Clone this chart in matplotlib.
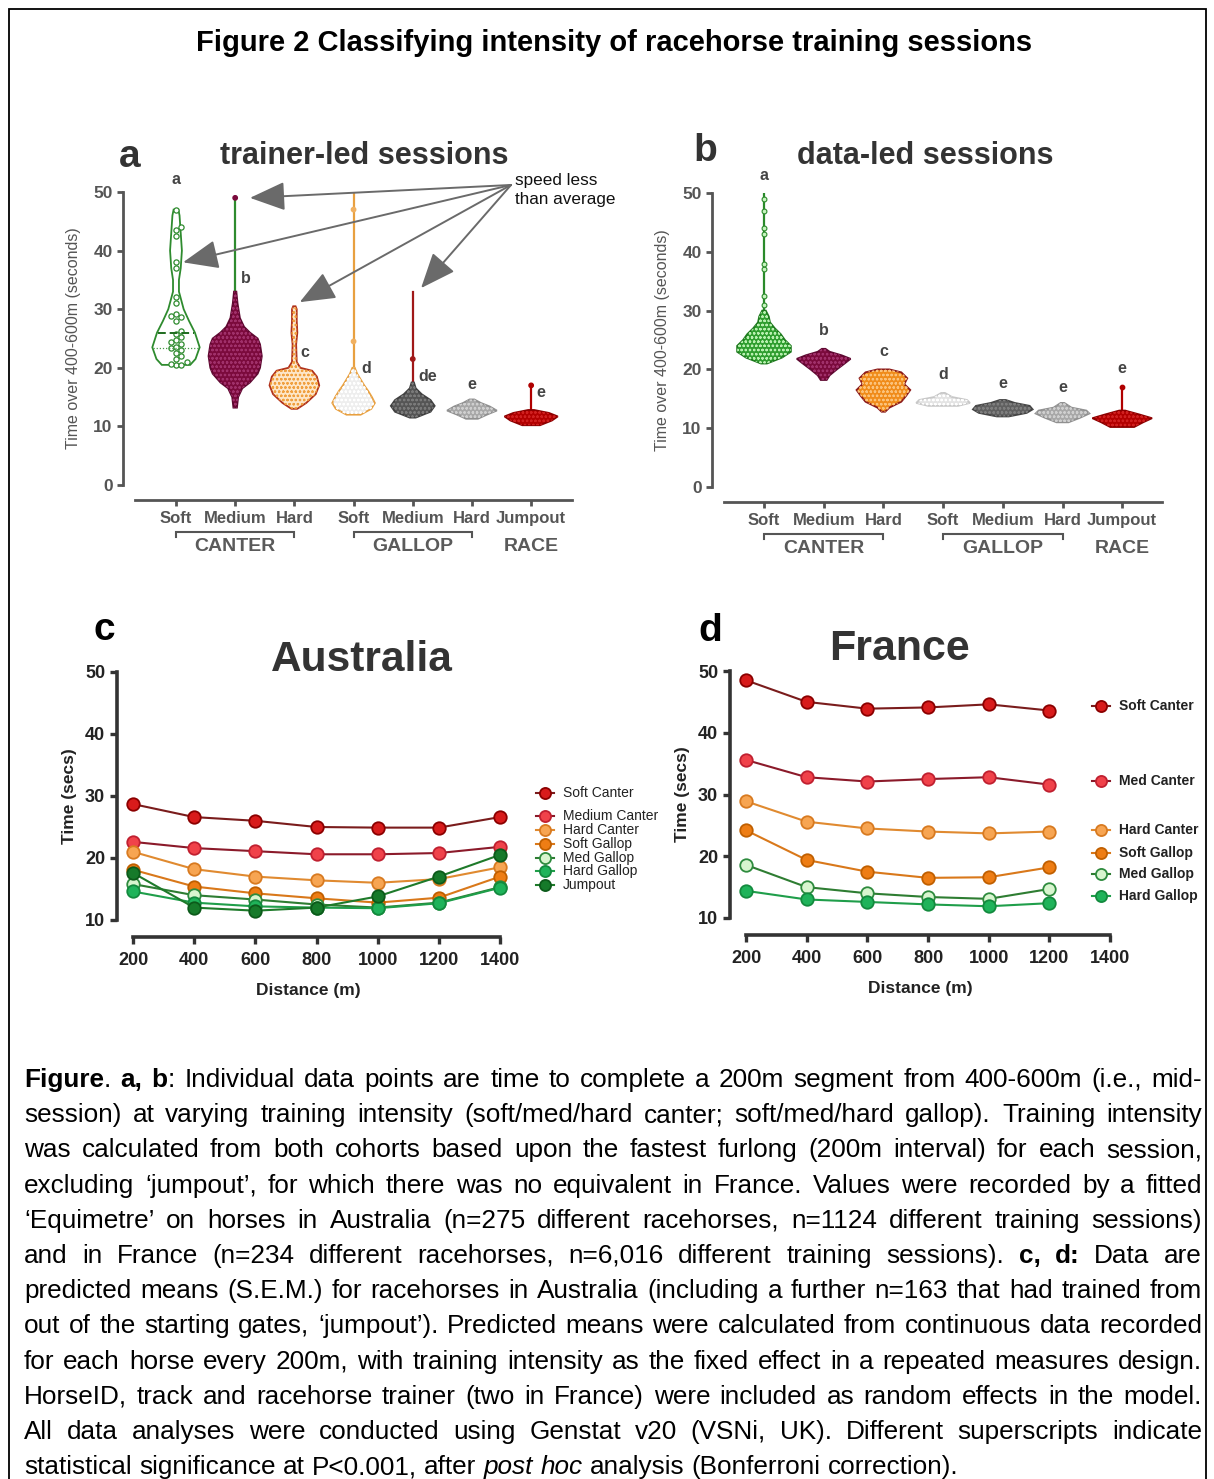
import matplotlib
matplotlib.use("Agg")
import matplotlib.pyplot as plt
from matplotlib.patches import Polygon, Rectangle
import numpy as np

plt.rcParams['font.family'] = ['Liberation Sans', 'DejaVu Sans']
plt.rcParams['hatch.linewidth'] = 0.6

W, H = 1214, 1479

# ---------------- data: panels a, b (violin outlines) ----------------
categories = ["Soft", "Medium", "Hard", "Soft", "Medium", "Hard", "Jumpout"]
groups = ["CANTER", "GALLOP", "RACE"]

# trainer-led: (y levels, half widths in category units)
a_profiles = [
    ([20.5, 21.5, 23.5, 26, 28, 30, 33, 35, 37, 40, 43, 46, 47],
     [0.24, 0.33, 0.40, 0.32, 0.22, 0.13, 0.05, 0.05, 0.08, 0.10, 0.08, 0.06, 0.04]),
    ([13.2, 15, 16.5, 17.5, 19, 20, 22, 24, 25, 26, 27, 28.5, 31, 33],
     [0.03, 0.05, 0.12, 0.25, 0.38, 0.42, 0.45, 0.42, 0.38, 0.25, 0.15, 0.08, 0.04, 0.02]),
    ([13, 14, 15.5, 17, 18.5, 19.5, 20, 21, 24, 26, 28, 30, 30.5],
     [0.05, 0.20, 0.36, 0.42, 0.38, 0.30, 0.10, 0.04, 0.03, 0.05, 0.04, 0.04, 0.02]),
    ([12, 13, 14, 15, 16, 17, 18, 19, 20],
     [0.12, 0.30, 0.36, 0.31, 0.25, 0.18, 0.12, 0.06, 0.02]),
    ([11.5, 12.5, 13.5, 14.5, 15.5, 16.5, 17.5],
     [0.05, 0.30, 0.37, 0.30, 0.15, 0.05, 0.02]),
    ([11.3, 12, 12.7, 13.4, 14, 14.6],
     [0.10, 0.25, 0.42, 0.30, 0.15, 0.04]),
    ([10.2, 11, 11.7, 12.3, 12.8],
     [0.15, 0.35, 0.45, 0.30, 0.05]),
]
a_tail_top = [None, 49, None, 50, 33, None, 17]
a_tail_colors = [None, "#2e8b2e", None, "#e8a040", "#a01818", None, "#b00000"]
a_faces = ["white", "#7b0a3c", "#fde6c8", "#eeeeee", "#555555", "#a8a8a8", "#b30000"]
a_edges = ["#2e8b2e", "#5e0830", "#b0301a", "#e8a040", "#404040", "#909090", "#8b0000"]
a_dots = [None, "#a0306a", "#f0a040", "#ffffff", "#7a7a7a", "#cfcfcf", "#d02020"]
a_letters = ["a", "b", "c", "d", "de", "e", "e"]
a_letter_y = [50.8, 34.0, 21.3, 18.6, 17.3, 15.9, 14.5]
a_letter_dx = [0.0, 0.18, 0.17, 0.22, 0.25, 0.0, 0.17]

# individual points in soft canter, trainer-led
soft_canter_a = [20.5, 20.5, 20.7, 21.0, 21.5, 22.0, 22.5, 23.0, 23.3, 23.6, 24.0, 24.4,
                 24.8, 25.2, 25.8, 26.2, 28.0, 28.6, 28.9, 29.2, 31.0, 32.0, 37.0, 38.0,
                 42.5, 43.5, 44.0, 47.0]
soft_canter_a_median = 26.0
soft_canter_a_q1 = 23.4

# data-led
b_profiles = [
    ([21, 22, 23, 24, 25, 26, 27, 28, 29, 30],
     [0.05, 0.30, 0.45, 0.45, 0.35, 0.28, 0.18, 0.10, 0.08, 0.03]),
    ([18.2, 19, 20, 21, 21.8, 22.4, 23, 23.5],
     [0.05, 0.10, 0.22, 0.35, 0.45, 0.30, 0.10, 0.03]),
    ([12.8, 13.5, 14.5, 15.5, 16.5, 17.5, 18.5, 19.5, 20],
     [0.03, 0.10, 0.30, 0.38, 0.45, 0.35, 0.40, 0.30, 0.10]),
    ([13.8, 14.3, 14.8, 15.3, 16],
     [0.25, 0.45, 0.40, 0.15, 0.03]),
    ([12, 12.6, 13.2, 13.8, 14.3, 14.8],
     [0.10, 0.40, 0.50, 0.45, 0.20, 0.05]),
    ([11, 11.8, 12.5, 13, 13.5, 14.3],
     [0.10, 0.30, 0.45, 0.40, 0.15, 0.03]),
    ([10.2, 11, 11.7, 12.3, 13],
     [0.20, 0.35, 0.50, 0.30, 0.05]),
]
b_tail_top = [50, None, None, None, None, None, 17]
b_tail_colors = ["#2a8a2a", None, None, None, None, None, "#b00000"]
b_faces = ["#2f9e2f", "#7b0a3c", "#f08c1a", "#e4e4e4", "#606060", "#a8a8a8", "#b30000"]
b_edges = ["#1e7a1e", "#5e0830", "#8b1a1a", "#c8c8c8", "#454545", "#909090", "#8b0000"]
b_dots = ["#b8f0b0", "#a0306a", "#fbc27a", "#ffffff", "#7e7e7e", "#cfcfcf", "#d02020"]
b_letters = ["a", "b", "c", "d", "e", "e", "e"]
b_letter_y = [51.7, 25.3, 21.7, 17.8, 16.3, 15.7, 18.8]
soft_canter_b_tail = [31.0, 32.5, 37.0, 38.0, 43.0, 44.0, 47.0, 49.0]

# ---------------- data: panels c, d (predicted means) ----------------
dist_c = [200, 400, 600, 800, 1000, 1200, 1400]
aus_names = ["Soft Canter", "Medium Canter", "Hard Canter", "Soft Gallop", "Med Gallop",
             "Hard Gallop", "Jumpout"]
aus_values = [
    [28.7, 26.6, 26.0, 25.0, 24.9, 24.9, 26.6],
    [22.6, 21.6, 21.1, 20.6, 20.6, 20.8, 21.8],
    [21.0, 18.2, 17.0, 16.4, 16.0, 16.6, 18.5],
    [18.1, 15.4, 14.3, 13.5, 12.8, 13.6, 17.0],
    [15.8, 14.0, 13.3, 12.5, 12.0, 12.8, 15.3],
    [14.6, 12.8, 12.2, 12.0, 11.9, 12.7, 15.2],
    [17.6, 12.0, 11.5, 12.0, 13.8, 17.0, 20.5],
]
dist_d = [200, 400, 600, 800, 1000, 1200]
fra_names = ["Soft Canter", "Med Canter", "Hard Canter", "Soft Gallop", "Med Gallop", "Hard Gallop"]
fra_values = [
    [48.5, 45.0, 43.9, 44.1, 44.6, 43.6],
    [35.6, 32.8, 32.1, 32.5, 32.8, 31.6],
    [28.9, 25.6, 24.5, 24.0, 23.7, 24.0],
    [24.2, 19.4, 17.5, 16.5, 16.6, 18.2],
    [18.6, 15.0, 14.0, 13.4, 13.1, 14.7],
    [14.4, 13.0, 12.6, 12.2, 11.9, 12.4],
]
# styles per intensity (face, edge, line)
styles = {
    "Soft Canter": ("#d81b1b", "#8b0000", "#7a1c1c"),
    "Medium Canter": ("#f0424a", "#c02030", "#8b1a2a"),
    "Med Canter": ("#f0424a", "#c02030", "#8b1a2a"),
    "Hard Canter": ("#f7a552", "#d87a20", "#e08a30"),
    "Soft Gallop": ("#ee7d14", "#c05f00", "#d9781a"),
    "Med Gallop": ("#d8f5cf", "#2e8b3e", "#2e7d32"),
    "Hard Gallop": ("#1fb35a", "#138a3e", "#1f9e4a"),
    "Jumpout": ("#167a2a", "#0c5a1a", "#1e7a2a"),
}

caption = [
    [("Figure", "b"), (". ", "n"), ("a, b", "b"), (": Individual data points are time to complete a 200m segment from 400-600m (i.e., mid-", "n")],
    [("session) at varying training intensity (soft/med/hard canter; soft/med/hard gallop). Training intensity", "n")],
    [("was calculated from both cohorts based upon the fastest furlong (200m interval) for each session,", "n")],
    [("excluding \u2018jumpout\u2019, for which there was no equivalent in France.  Values were recorded by a fitted", "n")],
    [("\u2018Equimetre\u2019 on horses in Australia (n=275 different racehorses, n=1124 different training sessions)", "n")],
    [("and in France (n=234 different racehorses, n=6,016 different training sessions). ", "n"), ("c, d:", "b"), (" Data are", "n")],
    [("predicted means (S.E.M.) for racehorses in Australia (including a further n=163 that had trained from", "n")],
    [("out of the starting gates, \u2018jumpout\u2019). Predicted means were calculated from continuous data recorded", "n")],
    [("for each horse every 200m, with training intensity as the fixed effect in a repeated measures design.", "n")],
    [("HorseID, track and racehorse trainer (two in France) were included as random effects in the model.", "n")],
    [("All data analyses were conducted using Genstat v20 (VSNi, UK). Different superscripts indicate", "n")],
    [("statistical significance at P<0.001, after ", "n"), ("post hoc", "i"), (" analysis (Bonferroni correction).", "n")],
]


def px_axes(fig, left, top, right, bottom):
    return fig.add_axes([left / W, 1 - bottom / H, (right - left) / W, (bottom - top) / H])


def ftext(fig, x, y, s, **kw):
    return fig.text(x / W, 1 - y / H, s, **kw)


def violin(ax, pos, ys, hws, face, edge, dot):
    right = [(pos + w, y) for y, w in zip(ys, hws)]
    left = [(pos - w, y) for y, w in zip(ys[::-1], hws[::-1])]
    ax.add_patch(Polygon(right + left, closed=True, facecolor=face, edgecolor=edge, lw=1.3, zorder=2))
    if dot:
        ax.add_patch(Polygon(right + left, closed=True, facecolor="none", edgecolor=dot,
                             lw=0, hatch="oooo", zorder=3))


def swarm(values, step=0.09, dy=0.9):
    placed = []
    xs = []
    for v in values:
        k = 0
        while True:
            off = ((k + 1) // 2) * step * (1 if k % 2 else -1) if k else 0.0
            if all(abs(v - pv) > dy or abs(off - px) > step * 0.9 for pv, px in placed):
                break
            k += 1
        placed.append((v, off))
        xs.append(off)
    return xs


def setup_violin_axes(ax, ylabel):
    ax.set_ylim(0, 50)
    ax.set_xlim(-0.895, 6.69)
    for s in ["top", "right"]:
        ax.spines[s].set_visible(False)
    for s in ["left", "bottom"]:
        ax.spines[s].set_color("#555555")
        ax.spines[s].set_linewidth(2.0)
    ax.spines["bottom"].set_position(("outward", 10.8))
    ax.spines["bottom"].set_bounds(-0.69, 6.69)
    ax.spines["left"].set_bounds(0, 50)
    ax.set_yticks([0, 10, 20, 30, 40, 50])
    ax.set_xticks(range(len(categories)))
    ax.set_xticklabels(categories)
    ax.tick_params(axis="both", colors="#555555", width=2.0, length=4, labelsize=12.5)
    ax.tick_params(axis="x", pad=4, labelsize=12)
    for t in ax.get_yticklabels() + ax.get_xticklabels():
        t.set_fontweight("bold")
        t.set_color("#555555")
    ax.set_ylabel(ylabel, color="#555555", fontsize=11.5, labelpad=9)
    ax.patch.set_alpha(0)
    # group brackets
    for lo, hi in [(0, 2), (3, 5)]:
        ax.plot([lo, lo, hi, hi], [-8.9, -8.0, -8.0, -8.9], color="#555555", lw=1.5,
                clip_on=False, solid_joinstyle="miter")
    for xg, g in zip([1, 4, 6], groups):
        ax.text(xg, -10.5, g, ha="center", va="center", fontsize=14, fontweight="bold",
                color="#5a5a5a", clip_on=False)


def setup_line_axes(ax, xlim):
    ax.set_ylim(10, 50)
    ax.set_xlim(*xlim)
    for s in ["top", "right"]:
        ax.spines[s].set_visible(False)
    for s in ["left", "bottom"]:
        ax.spines[s].set_color("#333333")
        ax.spines[s].set_linewidth(2.6)
    ax.spines["bottom"].set_position(("outward", 12.2))
    ax.spines["bottom"].set_bounds(200, 1400)
    ax.spines["left"].set_bounds(10, 50)
    ax.set_yticks([10, 20, 30, 40, 50])
    ax.set_xticks([200, 400, 600, 800, 1000, 1200, 1400])
    ax.tick_params(axis="both", colors="#333333", width=2.4, length=5, labelsize=13)
    ax.tick_params(axis="x", pad=6)
    for t in ax.get_yticklabels() + ax.get_xticklabels():
        t.set_fontweight("bold")
        t.set_color("#222222")
    ax.set_xlabel("Distance (m)", fontsize=12.5, fontweight="bold", color="#222222", labelpad=10)
    ax.set_ylabel("Time (secs)", fontsize=12.5, fontweight="bold", color="#222222", labelpad=6)
    ax.patch.set_alpha(0)


def legend_entry(fig, x, y, name, bold):
    face, edge, line = styles[name]
    fig.add_artist(plt.Line2D([(x - 9) / W, (x + 9) / W], [1 - y / H] * 2, color=line, lw=1.5))
    fig.add_artist(plt.Line2D([x / W], [1 - y / H], marker="o", ms=8, mfc=face, mec=edge, mew=1.3))
    ftext(fig, x + 18, y, name, ha="left", va="center", fontsize=10,
          fontweight="bold" if bold else "normal", color="#222222")


fig = plt.figure(figsize=(W / 100, H / 100), dpi=100)
fig.patch.set_facecolor("white")
fig.add_artist(Rectangle((9 / W, -0.05), (1206 - 9) / W, 1 - 9 / H + 0.05, transform=fig.transFigure,
                         fill=False, edgecolor="black", lw=1.3))

ftext(fig, 614, 43, "Figure 2 Classifying intensity of racehorse training sessions",
      ha="center", va="center", fontsize=21, fontweight="bold", color="black")

# ---------------- panel a ----------------
ax_a = px_axes(fig, 123, 192, 572, 485)
setup_violin_axes(ax_a, "Time over 400-600m (seconds)")
for i, (ys, hws) in enumerate(a_profiles):
    if a_tail_top[i]:
        ax_a.plot([i, i], [ys[-1], a_tail_top[i]], color=a_tail_colors[i], lw=1.6, zorder=1.5)
    violin(ax_a, i, ys, hws, a_faces[i], a_edges[i], a_dots[i])
    ax_a.text(i + a_letter_dx[i], a_letter_y[i], a_letters[i], ha="center", va="bottom",
              fontsize=11.5, fontweight="bold", color="#444444")
offs = swarm(soft_canter_a)
ax_a.scatter(offs, soft_canter_a, s=14, facecolors="white", edgecolors="#2e8b2e", lw=0.9, zorder=4)
ax_a.plot([-0.31, 0.31], [soft_canter_a_median] * 2, color="#1e6b1e", lw=1.4, ls=(0, (4, 2)), zorder=4)
ax_a.plot([-0.39, 0.39], [soft_canter_a_q1] * 2, color="#4a9a4a", lw=0.9, ls=(0, (1, 1.5)), zorder=4)
ax_a.scatter([1, 3, 3, 4, 6], [49, 47, 24.5, 21.5, 17], s=10, color=["#7b0a3c", "#f0b060", "#f0b060",
             "#a01818", "#b00000"], zorder=4)
arrow_targets = [(1.25, 49.0), (0.12, 38.0), (2.09, 31.2), (4.14, 33.6)]
for tx, ty in arrow_targets:
    ax_a.annotate("", xy=(tx, ty), xytext=(5.66, 51.2), annotation_clip=False,
                  arrowprops=dict(arrowstyle="-|>,head_length=1.1,head_width=0.45",
                                  mutation_scale=20, color="#6a6a6a", lw=1.4,
                                  shrinkA=0, shrinkB=0))
ftext(fig, 515, 190, "speed less\nthan average", ha="left", va="center", fontsize=12.3,
      color="#111111", linespacing=1.3)
ftext(fig, 364, 156, "trainer-led sessions", ha="center", va="center", fontsize=22,
      fontweight="bold", color="#333333")
ftext(fig, 130, 157, "a", ha="center", va="center", fontsize=28, fontweight="bold", color="#333333")

# ---------------- panel b ----------------
ax_b = px_axes(fig, 712, 193, 1170, 487)
setup_violin_axes(ax_b, "Time over 400-600m (seconds)")
ax_b.set_xlim((712 - 764) / 59.7, (1170 - 764) / 59.7)
ax_b.spines["bottom"].set_bounds((724 - 764) / 59.7, (1162 - 764) / 59.7)
for i, (ys, hws) in enumerate(b_profiles):
    if b_tail_top[i]:
        ax_b.plot([i, i], [ys[-1], b_tail_top[i]], color=b_tail_colors[i], lw=1.6, zorder=1.5)
    violin(ax_b, i, ys, hws, b_faces[i], b_edges[i], b_dots[i])
    ax_b.text(i, b_letter_y[i], b_letters[i], ha="center", va="bottom",
              fontsize=11.5, fontweight="bold", color="#444444")
ax_b.scatter([0] * len(soft_canter_b_tail), soft_canter_b_tail, s=12, facecolors="#c8f5c0",
             edgecolors="#2a8a2a", lw=0.8, zorder=4)
ax_b.scatter([6], [17], s=10, color="#b00000", zorder=4)
ftext(fig, 925, 156, "data-led sessions", ha="center", va="center", fontsize=22,
      fontweight="bold", color="#333333")
ftext(fig, 705, 151, "b", ha="center", va="center", fontsize=28, fontweight="bold", color="#333333")

# ---------------- panel c ----------------
ax_c = px_axes(fig, 117, 672, 500, 920)
setup_line_axes(ax_c, (200 - 16 / 0.3058, 1400))
for name, vals in zip(aus_names, aus_values):
    face, edge, line = styles[name]
    ax_c.plot(dist_c, vals, color=line, lw=1.5, marker="o", ms=9, mfc=face, mec=edge, mew=1.3,
              clip_on=False, zorder=3)
ftext(fig, 362, 660, "Australia", ha="center", va="center", fontsize=30.5, fontweight="bold", color="#333333")
ftext(fig, 104, 630, "c", ha="center", va="center", fontsize=28, fontweight="bold", color="black")
for name, y in zip(aus_names, [793, 816, 830, 844, 858, 871, 885]):
    legend_entry(fig, 545, y, name, False)

# ---------------- panel d ----------------
ax_d = px_axes(fig, 730, 671, 1110, 918)
setup_line_axes(ax_d, (200 - 16 / 0.3033, 1400))
for name, vals in zip(fra_names, fra_values):
    face, edge, line = styles[name]
    ax_d.plot(dist_d, vals, color=line, lw=1.5, marker="o", ms=9, mfc=face, mec=edge, mew=1.3,
              clip_on=False, zorder=3)
ftext(fig, 900, 649, "France", ha="center", va="center", fontsize=31, fontweight="bold", color="#333333")
ftext(fig, 710, 631, "d", ha="center", va="center", fontsize=28, fontweight="bold", color="black")
for name, y in zip(fra_names, [706, 781, 830, 853, 874, 896]):
    legend_entry(fig, 1101, y, name, True)

# ---------------- caption (justified) ----------------
fig.canvas.draw()
renderer = fig.canvas.get_renderer()
cap_size = 18.8
style_kw = {"n": {}, "b": {"fontweight": "bold"}, "i": {"fontstyle": "italic"}}


def measure(s, st):
    t = fig.text(0, 0, s, fontsize=cap_size, **style_kw[st])
    w = t.get_window_extent(renderer).width
    t.remove()
    return w


def words_of(line):
    words = [[]]
    for txt, st in line:
        for j, p in enumerate(txt.split(" ")):
            if j > 0:
                words.append([])
            if p:
                words[-1].append((p, st))
    return [w for w in words if w]


space_w = measure("n n", "n") - measure("nn", "n")
x_left, x_right = 24, 1202
for li, line in enumerate(caption):
    y = 1087 + li * 35.2
    words = words_of(line)
    widths = [[measure(p, st) for p, st in w] for w in words]
    total = sum(sum(w) for w in widths)
    last = li == len(caption) - 1
    gap = space_w if last else (x_right - x_left - total) / (len(words) - 1)
    gap = max(gap, 0.6 * space_w)
    x = x_left
    for w, ws in zip(words, widths):
        for (p, st), pw in zip(w, ws):
            ftext(fig, x, y, p, ha="left", va="baseline", fontsize=cap_size, color="black",
                  **style_kw[st])
            x += pw
        x += gap

fig.savefig("out.png", dpi=100)
